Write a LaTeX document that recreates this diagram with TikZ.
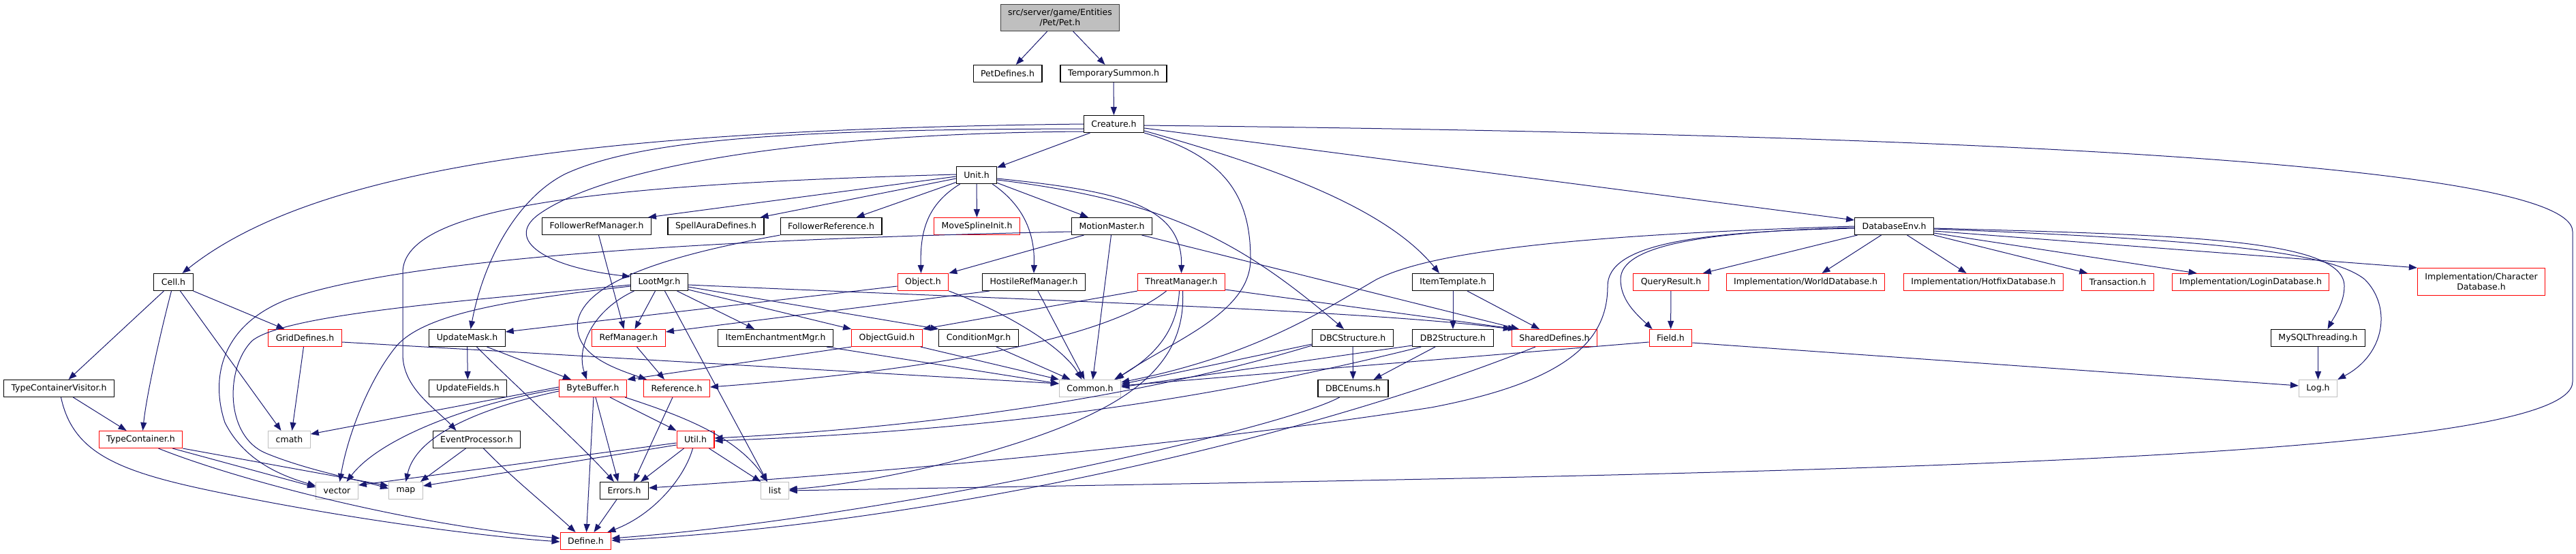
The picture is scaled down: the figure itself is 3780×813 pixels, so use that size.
\documentclass[tikz,border=0pt]{standalone}
\usepackage{fontspec}
\setmainfont{DejaVu Sans}
\usetikzlibrary{arrows.meta}
\definecolor{edgeblue}{HTML}{191970}
\definecolor{extgrey}{HTML}{BFBFBF}

\begin{document}
\begin{tikzpicture}[x=1pt,y=-1pt,
    font=\fontsize{12.5}{15}\selectfont,
    hdr/.style={draw=black, line width=1.1pt, fill=white, inner xsep=11pt, inner ysep=0pt, minimum height=25pt},
    redhdr/.style={hdr, draw=red},
    syshdr/.style={hdr, draw=extgrey},
    roothdr/.style={hdr, draw=black!75, fill=extgrey},
    inc/.style={draw=edgeblue, line width=1pt, -{Triangle[length=12pt,width=9pt]}}]
      \useasboundingbox (0,0) rectangle (3780,813);
      % first rows
      \node[roothdr, align=center, minimum height=39pt] (pet) at (1555.5,26) {src/server/game/Entities\\/Pet/Pet.h};
      \node[hdr] (petdef) at (1478.5,108) {PetDefines.h};
      \node[hdr] (tsum) at (1634,108) {TemporarySummon.h};
      \node[hdr] (creature) at (1634.5,182) {Creature.h};
      \node[hdr] (unit) at (1433,257) {Unit.h};
      \node[hdr] (frefmgr) at (875.5,332) {FollowerRefManager.h};
      \node[hdr] (spellaura) at (1050.5,332) {SpellAuraDefines.h};
      \node[hdr] (fref) at (1219.5,332) {FollowerReference.h};
      \node[redhdr] (msi) at (1433.5,332) {MoveSplineInit.h};
      \node[hdr] (motion) at (1631.5,332) {MotionMaster.h};
      \node[hdr] (dbenv) at (2779.5,332) {DatabaseEnv.h};
      % row of Cell.h
      \node[hdr] (cell) at (254.5,414) {Cell.h};
      \node[hdr] (loot) at (967.5,414) {LootMgr.h};
      \node[redhdr] (object) at (1354.5,414) {Object.h};
      \node[hdr] (hostile) at (1517,414) {HostileRefManager.h};
      \node[redhdr] (threat) at (1733.5,414) {ThreatManager.h};
      \node[hdr] (itemtpl) at (2132,414) {ItemTemplate.h};
      \node[redhdr] (qres) at (2452,414) {QueryResult.h};
      \node[redhdr] (world) at (2649.5,414) {Implementation/WorldDatabase.h};
      \node[redhdr] (hotfix) at (2910.5,414) {Implementation/HotfixDatabase.h};
      \node[redhdr] (trans) at (3107.5,414) {Transaction.h};
      \node[redhdr] (login) at (3302.5,414) {Implementation/LoginDatabase.h};
      \node[redhdr, align=center, minimum height=40pt] (chardb) at (3641,413.5) {Implementation/Character\\Database.h};
      % row of GridDefines.h
      \node[redhdr] (grid) at (447.5,496) {GridDefines.h};
      \node[hdr] (umask) at (685.5,496) {UpdateMask.h};
      \node[redhdr] (refmgr) at (922.5,496) {RefManager.h};
      \node[hdr] (iemgr) at (1138,496) {ItemEnchantmentMgr.h};
      \node[redhdr] (guid) at (1301.5,496) {ObjectGuid.h};
      \node[hdr] (cond) at (1436,496) {ConditionMgr.h};
      \node[hdr] (dbcs) at (1985,496) {DBCStructure.h};
      \node[hdr] (db2s) at (2132,496) {DB2Structure.h};
      \node[redhdr] (shared) at (2281,496) {SharedDefines.h};
      \node[redhdr] (field) at (2451.5,496) {Field.h};
      \node[hdr] (mysqlt) at (3401.5,496) {MySQLThreading.h};
      % row of Common.h
      \node[hdr] (tcv) at (86.5,570) {TypeContainerVisitor.h};
      \node[hdr] (ufields) at (686.5,570) {UpdateFields.h};
      \node[redhdr] (bbuf) at (870,570) {ByteBuffer.h};
      \node[redhdr] (ref) at (993,570) {Reference.h};
      \node[syshdr] (common) at (1599.5,570) {Common.h};
      \node[hdr] (dbce) at (1985.5,570) {DBCEnums.h};
      \node[syshdr] (log) at (3401.5,570) {Log.h};
      % bottom rows
      \node[redhdr] (tcont) at (206.5,645) {TypeContainer.h};
      \node[syshdr] (cmath) at (424.5,645) {cmath};
      \node[hdr] (evp) at (699.5,645) {EventProcessor.h};
      \node[redhdr] (util) at (1020.5,645) {Util.h};
      \node[syshdr] (vector) at (494.5,720) {vector};
      \node[syshdr] (map) at (595.5,720) {map};
      \node[hdr] (errors) at (916,720) {Errors.h};
      \node[syshdr] (list) at (1137,720) {list};
      \node[redhdr] (define) at (859.5,794) {Define.h};
      % Pet.h and TemporarySummon.h
      \draw[inc] (pet) -- (petdef);
      \draw[inc] (pet) -- (tsum);
      \draw[inc] (tsum) -- (creature);
      % Creature.h
      \draw[inc] (creature) -- (unit);
      \draw[inc] (creature.west) .. controls (900,190) and (470,240) .. ([xshift=13pt]cell.north);
      \draw[inc] ([yshift=-7pt]creature.west) .. controls (1200,190) and (950,200) .. (830,255) .. controls (760,290) and (710,380) .. ([xshift=5pt]umask.north);
      \draw[inc] ([yshift=-11pt]creature.west) .. controls (1150,196) and (880,250) .. (790,315) .. controls (740,352) and (800,392) .. ([yshift=8pt]loot.west);
      \draw[inc] (creature.south east) .. controls (1800,230) and (1835,290) .. (1835,380) .. controls (1835,460) and (1720,500) .. ([xshift=-8pt]common.north east);
      \draw[inc] ([yshift=-10pt]creature.east) .. controls (1850,240) and (2030,300) .. ([xshift=-20pt]itemtpl.north);
      \draw[inc] ([yshift=-6pt]creature.east) -- ([yshift=9pt]dbenv.west);
      \draw[inc] ([yshift=-2pt]creature.east) .. controls (2700,195) and (3775,230) .. (3775,340) -- (3775,560) .. controls (3775,680) and (2600,695) .. (list.east);
      % Unit.h
      \draw[inc] (unit) -- (msi);
      \draw[inc] (unit) -- (motion);
      \draw[inc] (unit) -- (fref);
      \draw[inc] ([yshift=-5pt]unit.west) -- ([xshift=-6pt]spellaura.north east);
      \draw[inc] ([yshift=-2pt]unit.west) -- ([xshift=-5pt]frefmgr.north east);
      \draw[inc] ([yshift=1pt]unit.west) .. controls (900,270) and (591,300) .. (591,400) -- (591,520) .. controls (591,570) and (640,600) .. ([xshift=-30pt]evp.north);
      \draw[inc] ([xshift=6pt]unit.south west) .. controls (1360,300) and (1350,340) .. ([xshift=-3pt]object.north);
      \draw[inc] ([xshift=-7pt]unit.south east) .. controls (1500,300) and (1519,340) .. (hostile.north);
      \draw[inc] ([yshift=-5pt]unit.east) .. controls (1640,280) and (1735,300) .. (threat.north);
      \draw[inc] ([yshift=-7pt]unit.east) .. controls (1713,294) and (1822,355) .. ([xshift=-13pt]dbcs.north);
      % followers
      \draw[inc] ([xshift=3pt]frefmgr.south) -- ([xshift=-7pt]refmgr.north);
      \draw[inc] (fref.south west) .. controls (950,380) and (860,420) .. (848,470) .. controls (840,520) and (900,540) .. ([xshift=5pt]ref.north west);
      % MotionMaster.h
      \draw[inc] ([xshift=-41pt]motion.south) -- (object.north east);
      \draw[inc] ([xshift=-1pt]motion.south) -- ([xshift=4pt]common.north);
      \draw[inc] ([xshift=44pt]motion.south) -- ([xshift=-52pt]shared.north);
      \draw[inc] ([yshift=-8pt]motion.west) .. controls (1100,350) and (600,375) .. (420,440) .. controls (320,480) and (310,560) .. (330,620) .. controls (360,680) and (420,700) .. ([yshift=7pt]vector.west);
      % Cell.h
      \draw[inc] (cell) -- (tcv);
      \draw[inc] ([xshift=-3pt]cell.south) .. controls (235,490) and (215,580) .. ([xshift=3pt]tcont.north);
      \draw[inc] ([xshift=10pt]cell.south) -- ([xshift=-12pt]cmath.north);
      \draw[inc] (cell.south east) -- ([xshift=-30pt]grid.north);
      % type containers
      \draw[inc] (tcv) -- (tcont);
      \draw[inc] ([xshift=3pt]tcv.south) .. controls (110,680) and (200,700) .. (400,738) .. controls (600,775) and (750,790) .. ([yshift=-1pt]define.west);
      \draw[inc] ([xshift=-15pt]tcont.south east) -- ([yshift=5pt]vector.west);
      \draw[inc] (tcont.south east) -- ([yshift=7pt]map.west);
      \draw[inc] ([xshift=26pt]tcont.south) .. controls (350,705) and (600,770) .. ([yshift=4pt]define.west);
      % GridDefines.h
      \draw[inc] ([xshift=-2pt]grid.south) -- ([xshift=4pt]cmath.north);
      \draw[inc] ([yshift=-6pt]grid.east) -- ([yshift=7pt]common.west);
      % LootMgr.h
      \draw[inc] ([yshift=-4pt]loot.west) .. controls (700,440) and (420,460) .. (370,500) .. controls (330,540) and (330,640) .. (390,665) .. controls (450,690) and (530,705) .. ([yshift=3pt]map.west);
      \draw[inc] ([yshift=-6pt]loot.west) .. controls (750,440) and (620,460) .. (580,510) .. controls (540,560) and (510,640) .. ([xshift=4pt]vector.north);
      \draw[inc] ([xshift=-37pt]loot.south) .. controls (870,455) and (845,510) .. ([xshift=-9pt]bbuf.north);
      \draw[inc] ([xshift=-6pt]loot.south) -- ([xshift=9pt]refmgr.north);
      \draw[inc] ([xshift=8pt]loot.south) -- ([xshift=-11pt]list.north);
      \draw[inc] ([xshift=26pt]loot.south) -- ([xshift=-31pt]iemgr.north);
      \draw[inc] ([yshift=-11pt]loot.east) -- (guid.north west);
      \draw[inc] ([yshift=-4pt]loot.east) .. controls (1500,440) and (2000,455) .. (shared.north west);
      \draw[inc] ([yshift=-7pt]loot.east) -- (cond.north west);
      % Object.h, HostileRefManager.h, ThreatManager.h
      \draw[inc] ([yshift=-6pt]object.west) -- ([yshift=9pt]umask.east);
      \draw[inc] (object.south east) .. controls (1480,460) and (1560,510) .. ([xshift=-12pt]common.north);
      \draw[inc] ([xshift=-65pt]hostile.south) -- ([yshift=9pt]refmgr.east);
      \draw[inc] ([xshift=6pt]hostile.south) -- ([xshift=-8pt]common.north);
      \draw[inc] (threat.south west) -- (guid.north east);
      \draw[inc] ([xshift=-3pt]threat.south) .. controls (1728,480) and (1700,520) .. ([xshift=-10pt]common.north east);
      \draw[inc] ([xshift=-22pt]threat.south) .. controls (1620,500) and (1350,545) .. ([yshift=2pt]ref.east);
      \draw[inc] ([xshift=2pt]threat.south) .. controls (1740,520) and (1680,580) .. (1550,630) .. controls (1420,680) and (1250,712) .. ([yshift=2pt]list.east);
      \draw[inc] ([yshift=-11pt]threat.east) -- ([xshift=-56pt]shared.north);
      % UpdateMask.h and the managers
      \draw[inc] (umask) -- (ufields);
      \draw[inc] ([xshift=29pt]umask.south) -- ([xshift=-32pt]bbuf.north);
      \draw[inc] ([xshift=14pt]umask.south) .. controls (760,570) and (850,650) .. ([xshift=-15pt]errors.north);
      \draw[inc] ([xshift=12pt]refmgr.south) -- ([xshift=-18pt]ref.north);
      \draw[inc] ([xshift=-10pt]iemgr.south east) -- ([yshift=7pt]common.west);
      \draw[inc] ([xshift=-3pt]guid.south east) -- (common.north west);
      \draw[inc] (guid.south west) -- (bbuf.north east);
      \draw[inc] ([xshift=26pt]cond.south) -- ([xshift=-29pt]common.north);
      % ByteBuffer.h
      \draw[inc] ([yshift=2pt]bbuf.west) -- ([yshift=8pt]cmath.east);
      \draw[inc] ([yshift=-1pt]bbuf.west) .. controls (700,590) and (560,640) .. ([xshift=14pt]vector.north);
      \draw[inc] ([yshift=-4pt]bbuf.west) .. controls (700,600) and (610,640) .. (map.north);
      \draw[inc] ([xshift=1pt]bbuf.south) -- ([xshift=1pt]define.north);
      \draw[inc] ([xshift=4pt]bbuf.south) -- ([xshift=-9pt]errors.north);
      \draw[inc] ([xshift=25pt]bbuf.south) -- (util.north west);
      \draw[inc] ([xshift=-3pt]bbuf.south east) .. controls (1000,610) and (1080,640) .. ([xshift=-11pt]list.north);
      % EventProcessor.h, Util.h, Errors.h, Reference.h
      \draw[inc] ([xshift=-16pt]evp.south) -- ([xshift=-4pt]map.north east);
      \draw[inc] ([xshift=10pt]evp.south) .. controls (750,700) and (800,740) .. ([xshift=-15pt]define.north);
      \draw[inc] ([yshift=-5pt]util.west) -- ([yshift=8pt]vector.east);
      \draw[inc] ([yshift=-8pt]util.west) -- ([yshift=7pt]map.east);
      \draw[inc] ([xshift=-17pt]util.south) -- ([xshift=-12pt]errors.north east);
      \draw[inc] ([xshift=-4pt]util.south) .. controls (1005,700) and (960,755) .. ([xshift=-6pt]define.north east);
      \draw[inc] ([xshift=-8pt]util.south east) -- (list.north west);
      \draw[inc] ([xshift=-11pt]errors.south) -- ([xshift=12pt]define.north);
      \draw[inc] ([xshift=-6pt]ref.south) -- ([xshift=14pt]errors.north);
      % DBC and DB2 structures
      \draw[inc] (dbcs) -- (dbce);
      \draw[inc] ([yshift=-9pt]dbcs.west) -- ([yshift=6pt]common.east);
      \draw[inc] ([yshift=-11pt]dbcs.west) .. controls (1700,575) and (1400,625) .. ([yshift=2pt]util.east);
      \draw[inc] ([xshift=-26pt]db2s.south) -- ([xshift=-22pt]dbce.north east);
      \draw[inc] ([yshift=-11pt]db2s.west) -- ([yshift=2pt]common.east);
      \draw[inc] ([xshift=13pt]db2s.south west) .. controls (1800,580) and (1500,630) .. ([yshift=-2pt]util.east);
      \draw[inc] ([xshift=-20pt]dbce.south) .. controls (1880,630) and (1300,760) .. ([yshift=4pt]define.east);
      \draw[inc] ([xshift=-28pt]shared.south) .. controls (1900,650) and (1350,770) .. ([yshift=1pt]define.east);
      \draw[inc] (itemtpl) -- (db2s);
      \draw[inc] ([xshift=21pt]itemtpl.south) -- ([xshift=-22pt]shared.north);
      % DatabaseEnv.h
      \draw[inc] (dbenv.west) .. controls (2300,345) and (2100,370) .. (2020,410) .. controls (1950,450) and (1850,520) .. ([yshift=9pt]common.east);
      \draw[inc] ([yshift=-2pt]dbenv.west) .. controls (2500,340) and (2378,360) .. (2378,410) .. controls (2378,440) and (2400,460) .. ([xshift=5pt]field.north west);
      \draw[inc] ([yshift=-3pt]dbenv.west) .. controls (2480,340) and (2359,360) .. (2359,420) .. controls (2359,500) and (2300,560) .. (2100,598) .. controls (1700,660) and (1200,700) .. ([yshift=4pt]errors.east);
      \draw[inc] ([xshift=-54pt]dbenv.south) -- ([xshift=-9pt]qres.north east);
      \draw[inc] ([xshift=-19pt]dbenv.south) -- ([xshift=24pt]world.north);
      \draw[inc] ([xshift=19pt]dbenv.south) -- ([xshift=-25pt]hotfix.north);
      \draw[inc] (dbenv.south east) -- ([xshift=9pt]trans.north west);
      \draw[inc] ([yshift=-10pt]dbenv.east) -- ([xshift=37pt]login.north west);
      \draw[inc] ([yshift=-7pt]dbenv.east) -- (chardb.north west);
      \draw[inc] ([yshift=-3pt]dbenv.east) .. controls (3200,345) and (3440,350) .. (3440,420) .. controls (3440,445) and (3425,465) .. ([xshift=14pt]mysqlt.north);
      \draw[inc] ([yshift=-4pt]dbenv.east) .. controls (3250,352) and (3420,370) .. (3470,410) .. controls (3510,450) and (3500,520) .. (log.north east);
      % query result and field
      \draw[inc] (qres) -- (field);
      \draw[inc] ([yshift=-6pt]field.west) -- ([yshift=4pt]common.east);
      \draw[inc] ([yshift=-7pt]field.east) -- ([yshift=4pt]log.west);
      \draw[inc] (mysqlt) -- (log);
    \end{tikzpicture}
\end{document}
